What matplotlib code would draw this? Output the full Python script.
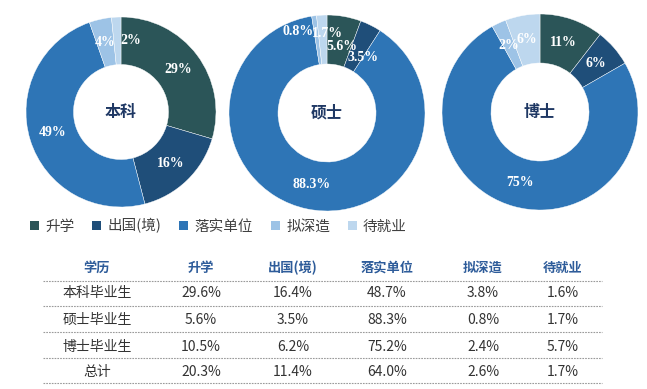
#!/usr/bin/env python3
"""Graduate destinations: three donuts plus a summary table."""
import numpy as np
import matplotlib
matplotlib.use('Agg')
import matplotlib.pyplot as plt
from matplotlib.patches import Patch
from matplotlib.lines import Line2D

plt.rcParams['font.family'] = ['Noto Sans CJK SC', 'DejaVu Sans']

# --- data ---
categories = ['升学', '出国(境)', '落实单位', '拟深造', '待就业']
degrees = ['本科', '硕士', '博士']
bachelor = [29.6, 16.4, 48.7, 3.8, 1.6]
master = [5.6, 3.5, 88.3, 0.8, 1.7]
doctor = [10.5, 6.2, 75.2, 2.4, 5.7]
total = [20.3, 11.4, 64.0, 2.6, 1.7]
bachelor_labels = ['29%', '16%', '49%', '4%', '2%']
master_labels = ['5.6%', '3.5%', '88.3%', '0.8%', '1.7%']
doctor_labels = ['11%', '6%', '75%', '2%', '6%']
row_names = ['本科毕业生', '硕士毕业生', '博士毕业生', '总计']
header = ['学历'] + categories

W, H = 647, 389
COLORS = ['#2B5558', '#1F4E79', '#2E75B6', '#9DC3E6', '#BDD7EE']
NAVY = '#1F3864'
HEAD = '#2E5C9A'
TXT = '#333333'

fig = plt.figure(figsize=(W / 100, H / 100), dpi=100)
fig.patch.set_facecolor('white')

# donut geometry in pixels: centre x, centre y, radius
donuts = [(121, 112, 95), (327, 113, 98), (540, 112, 98)]
series = [bachelor, master, doctor]
labels = [bachelor_labels, master_labels, doctor_labels]
# small nudges for crowded labels (data units)
nudge = {(0, 4): (0.14, 0.0), (1, 0): (0.02, -0.06), (1, 1): (0.03, -0.11),
         (1, 3): (-0.2, 0.09), (1, 4): (0.04, 0.06)}

for k, ((cx, cy, r), vals, labs, name) in enumerate(zip(donuts, series, labels, degrees)):
    ax = fig.add_axes([(cx - r) / W, 1 - (cy + r) / H, 2 * r / W, 2 * r / H])
    wedges, _ = ax.pie(vals, colors=COLORS, startangle=90, counterclock=False,
                       radius=1.0, wedgeprops=dict(width=0.5, edgecolor='white', linewidth=0.3))
    for i, (w, lab) in enumerate(zip(wedges, labs)):
        ang = np.deg2rad((w.theta1 + w.theta2) / 2)
        x, y = 0.75 * np.cos(ang), 0.75 * np.sin(ang)
        dx, dy = nudge.get((k, i), (0, 0))
        ax.text(x + dx, y + dy, lab, ha='center', va='center', color='white',
                fontsize=10, fontweight='bold', family='Liberation Serif')
    ax.text(0, 0, name, ha='center', va='center', fontsize=11.5, fontweight='bold', color=NAVY)
    ax.set_xlim(-1, 1)
    ax.set_ylim(-1, 1)
    ax.axis('off')

# legend
handles = [Patch(facecolor=c, edgecolor='none') for c in COLORS]
leg = fig.legend(handles, categories, loc='center left', bbox_to_anchor=(24 / W, 1 - 226 / H),
                 ncol=5, frameon=False, fontsize=10.5, handlelength=0.6, handleheight=0.6,
                 handletextpad=0.45, columnspacing=1.22, borderaxespad=0)
for t in leg.get_texts():
    t.set_color('#404040')

# table
col_x = [97, 201, 293, 387, 483, 563]
head_y = 268
row_y = [293, 320, 347, 372]
line_y = [281, 306, 332, 358, 383]

for x, h in zip(col_x, header):
    fig.text(x / W, 1 - head_y / H, h, ha='center', va='center', fontsize=9.5,
             fontweight='bold', color=HEAD)

table = [bachelor, master, doctor, total]
for y, name, vals in zip(row_y, row_names, table):
    fig.text(col_x[0] / W, 1 - y / H, name, ha='center', va='center', fontsize=10, color=TXT)
    for x, v in zip(col_x[1:], vals):
        fig.text(x / W, 1 - y / H, f'{v:.1f}%', ha='center', va='center', fontsize=10, color=TXT)

for y in line_y:
    fig.add_artist(Line2D([43 / W, 602 / W], [1 - y / H, 1 - y / H], transform=fig.transFigure,
                          color='#9a9a9a', linewidth=0.8, linestyle=(0, (1.5, 1))))

fig.savefig('out.png', dpi=100, facecolor='white')
plt.close(fig)
